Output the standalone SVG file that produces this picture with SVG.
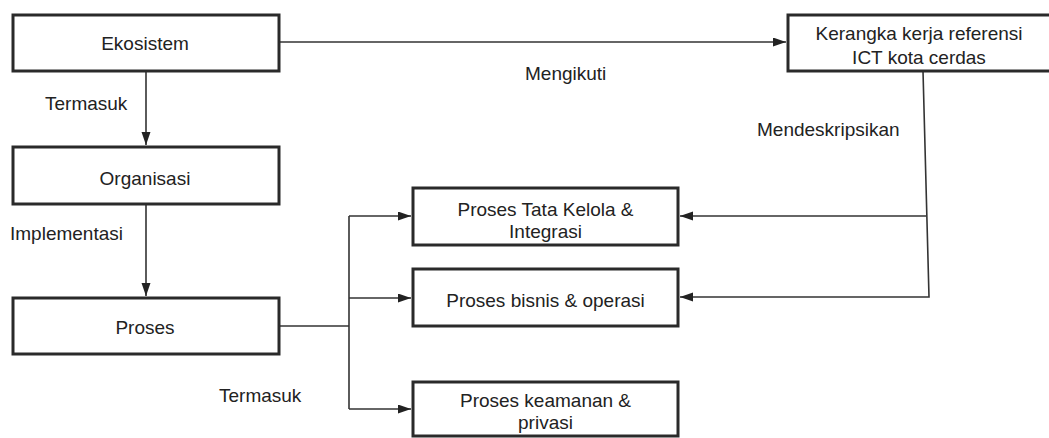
<svg xmlns="http://www.w3.org/2000/svg" width="1049" height="438" viewBox="0 0 1049 438">
<defs>
<style>
.box{fill:#fff;stroke:#2a2a2a;stroke-width:3}
.t{font-family:"Liberation Sans",Arial,sans-serif;font-size:19px;fill:#222;text-anchor:middle}
.l{font-family:"Liberation Sans",Arial,sans-serif;font-size:19px;fill:#222}
.c{fill:none;stroke:#333;stroke-width:1.6}
</style>
<marker id="ah" markerUnits="userSpaceOnUse" markerWidth="14" markerHeight="10" refX="13" refY="4.5" orient="auto">
<path d="M0,0 L13,4.5 L0,9 z" fill="#222"/>
</marker>
</defs>
<rect width="1049" height="438" fill="#fff"/>
<g id="connectors">
<path class="c" d="M146 71 V145" marker-end="url(#ah)"/>
<path class="c" d="M146 204 V296" marker-end="url(#ah)"/>
<path class="c" d="M279 42 H786" marker-end="url(#ah)"/>
<path class="c" d="M279 326 H349"/>
<path class="c" d="M349 216 V409"/>
<path class="c" d="M349 216 H411" marker-end="url(#ah)"/>
<path class="c" d="M349 298 H411" marker-end="url(#ah)"/>
<path class="c" d="M349 409 H411" marker-end="url(#ah)"/>
<path class="c" d="M923 71 L929 297 H680" marker-end="url(#ah)"/>
<path class="c" d="M926 216 H680" marker-end="url(#ah)"/>
<text class="l" x="45" y="110">Termasuk</text>
<text class="l" x="10" y="240">Implementasi</text>
<text class="l" x="219" y="402">Termasuk</text>
<text class="l" x="525" y="80">Mengikuti</text>
<text class="l" x="757" y="136">Mendeskripsikan</text>
</g>
<g id="ekosistem">
<rect class="box" x="13" y="15" width="266" height="56"/>
<text class="t" x="145" y="50">Ekosistem</text>
</g>
<g id="organisasi">
<rect class="box" x="13" y="147" width="266" height="57"/>
<text class="t" x="145" y="185">Organisasi</text>
</g>
<g id="proses">
<rect class="box" x="13" y="298" width="266" height="56"/>
<text class="t" x="145" y="334">Proses</text>
</g>
<g id="kerangka">
<rect class="box" x="788" y="15" width="270" height="56"/>
<text class="t" x="919" y="40">Kerangka kerja referensi</text>
<text class="t" x="919" y="64">ICT kota cerdas</text>
</g>
<g id="tatakelola">
<rect class="box" x="413" y="188" width="265" height="57"/>
<text class="t" x="545.5" y="216">Proses Tata Kelola &amp;</text>
<text class="t" x="545.5" y="238">Integrasi</text>
</g>
<g id="bisnis">
<rect class="box" x="413" y="269" width="265" height="57"/>
<text class="t" x="545.5" y="307">Proses bisnis &amp; operasi</text>
</g>
<g id="keamanan">
<rect class="box" x="413" y="382" width="265" height="54"/>
<text class="t" x="545.5" y="407">Proses keamanan &amp;</text>
<text class="t" x="545.5" y="429">privasi</text>
</g>
</svg>
